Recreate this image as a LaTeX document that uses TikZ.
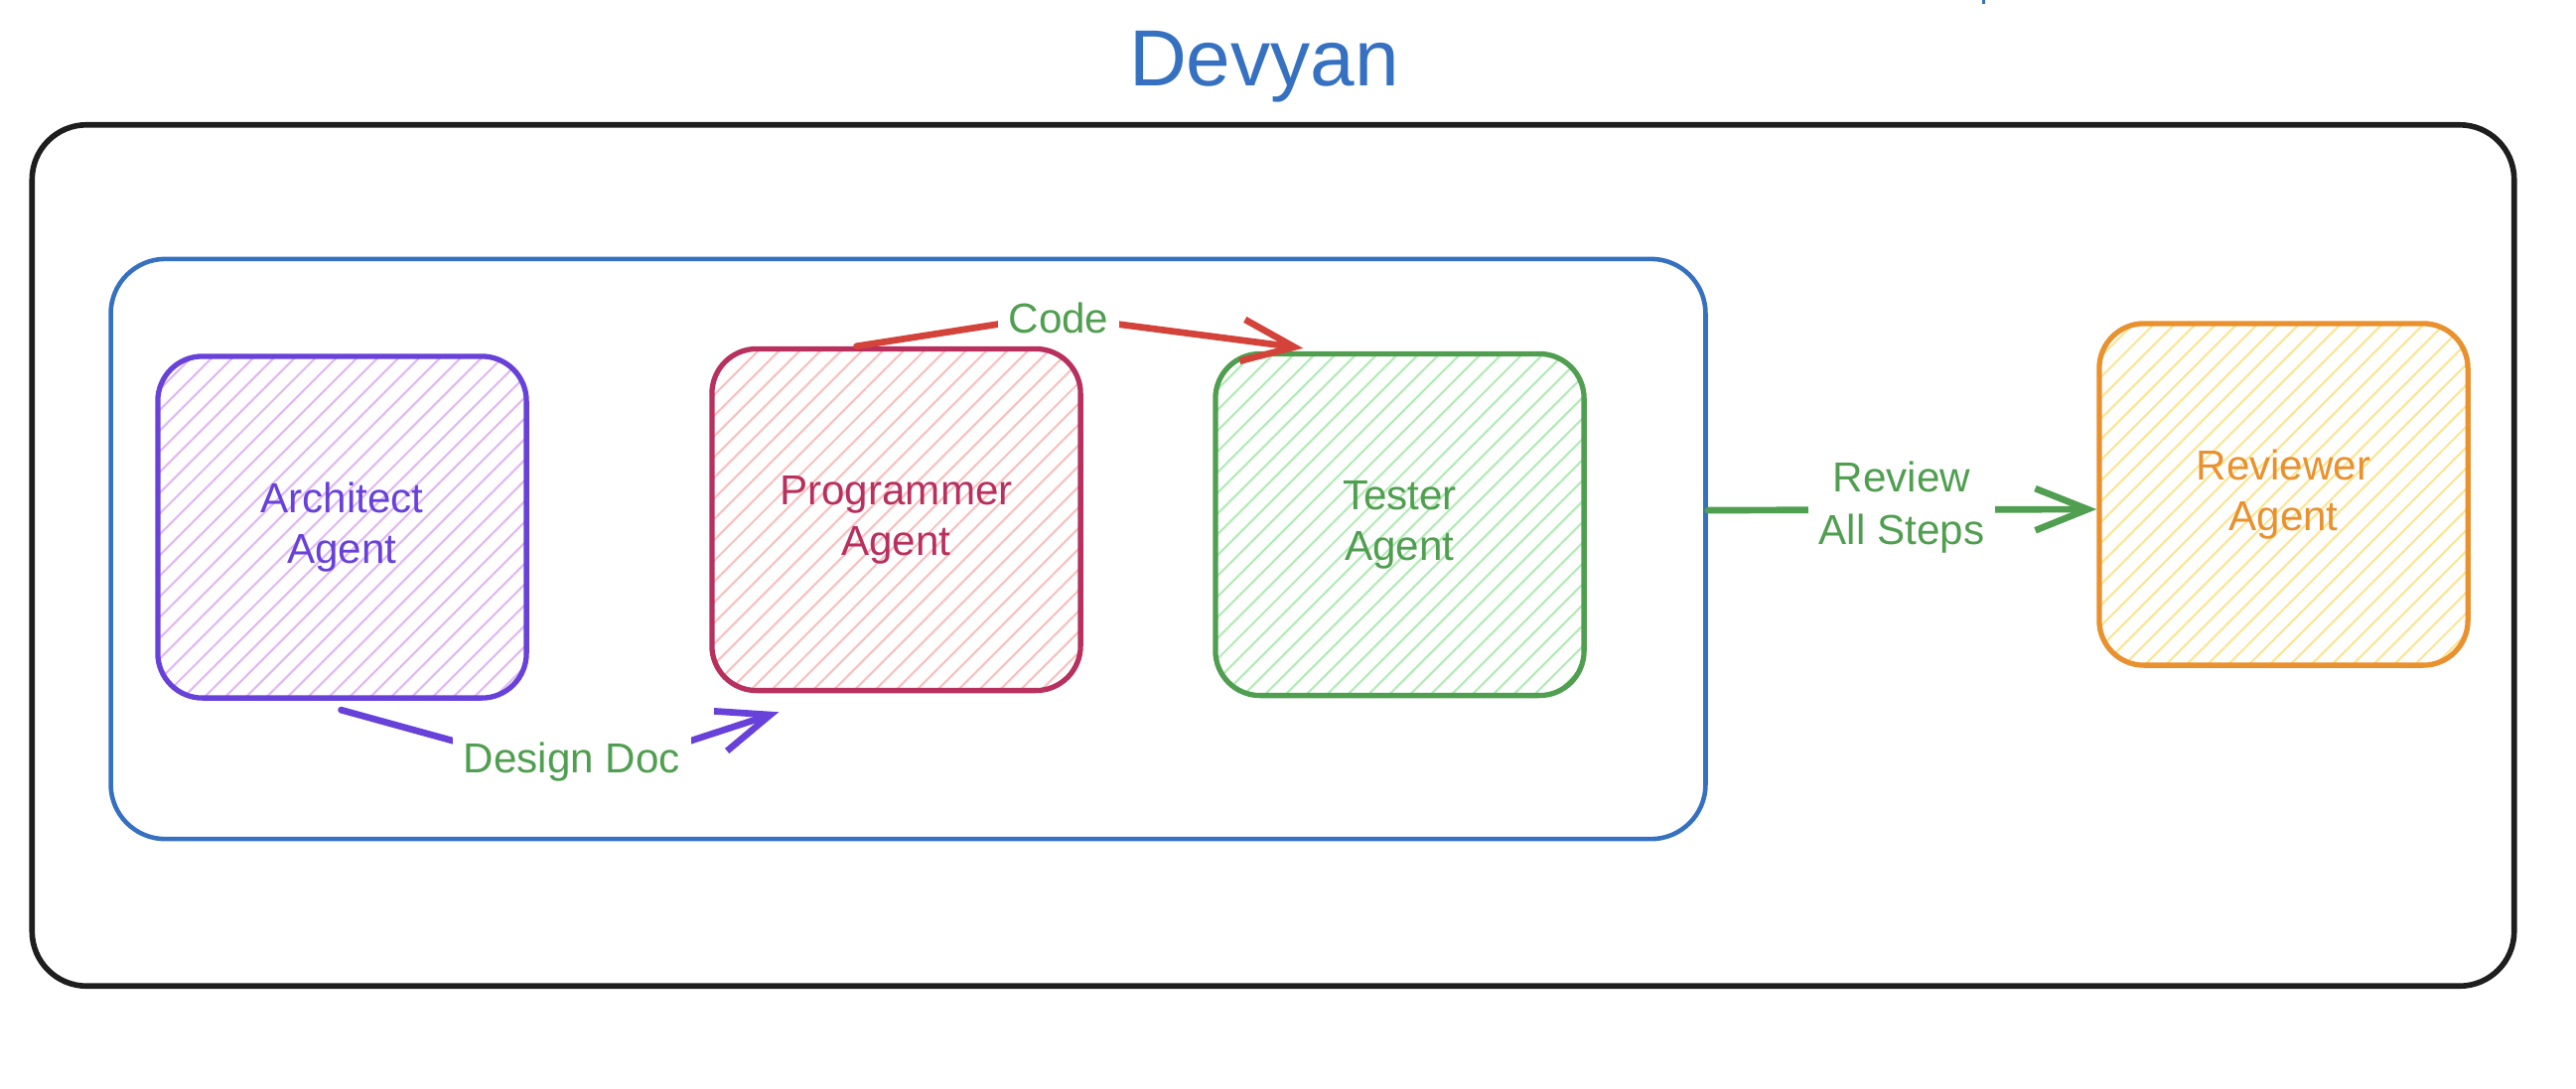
\documentclass[tikz,border=0pt]{standalone}
\usepackage{fontspec}
\setmainfont{Liberation Sans}
\usetikzlibrary{arrows.meta,patterns.meta,calc}
\definecolor{cBlack}{HTML}{1E1E1E}
\definecolor{cBlue}{RGB}{54,113,193}
\definecolor{cViolet}{HTML}{6741D9}
\definecolor{cViolHatch}{HTML}{E0B8F4}
\definecolor{cPink}{HTML}{B8305E}
\definecolor{cPinkHatch}{HTML}{F9C0C0}
\definecolor{cGreen}{RGB}{80,158,80}
\definecolor{cGreenHatch}{HTML}{B2EBB6}
\definecolor{cOrange}{HTML}{E8912E}
\definecolor{cOrangeHatch}{HTML}{FBE594}
\definecolor{cRed}{HTML}{D3433A}
\begin{document}
\begin{tikzpicture}[x=0.01cm,y=-0.01cm,
  agent/.style={draw=#1, line width=1.5pt, rounded corners=0.45cm,
    minimum width=3.71cm, minimum height=3.44cm, inner sep=0pt, align=center,
    text=#1, font=\fontsize{12}{14.5}\selectfont},
  hatch/.style={pattern={Lines[angle=45,distance=4.2pt,line width=0.6pt]}, pattern color=#1},
  flow/.style={line width=1.9pt, -{Straight Barb[length=15pt,width=12pt]},
    line cap=round, line join=round},
  lbl/.style={text=cGreen, fill=white, inner sep=3pt,
    font=\fontsize{12}{15}\selectfont, align=center}
]
\useasboundingbox (0,0) rectangle (2594,1096);

% title
\node[text=cBlue, font=\fontsize{22.8}{27}\selectfont, anchor=base] (title) at (1273,86) {Devyan};
\fill[cBlue] (1996,0) rectangle (1999,4);

% containers
\node[draw=cBlack, line width=1.6pt, rounded corners=0.55cm, minimum width=24.98cm,
      minimum height=8.67cm, inner sep=0pt] (outer) at (1282,559.5) {};
\node[draw=cBlue, line width=1.3pt, rounded corners=0.55cm, minimum width=16.05cm,
      minimum height=5.84cm, inner sep=0pt] (blue) at (914.5,553) {};

% agents
\node[agent=cViolet, hatch=cViolHatch] (arch) at (344.5,531) {Architect\\Agent};
\node[agent=cPink, hatch=cPinkHatch] (prog) at (902.5,523.5) {Programmer\\Agent};
\node[agent=cGreen, hatch=cGreenHatch] (tester) at (1409.5,528.5) {Tester\\Agent};
\node[agent=cOrange, hatch=cOrangeHatch] (rev) at (2299.5,498) {Reviewer\\Agent};

% connectors
\coordinate (ddMid) at (586,782);
\coordinate (codeMid) at (1060,318);
\draw[flow, cViolet] ($(arch.south)+(-1,11)$) -- (ddMid) -- ($(prog.south west)+(70,19)$);
\draw[flow, cRed] ($(prog.north)+(-40,0)$) -- (codeMid) -- ($(tester.north west)+(91,-3)$);
\draw[flow, cGreen] ($(blue.east)+(0,-39)$) -- ($(rev.west)+(0,15)$);

% labels
\node[lbl] (ddl) at (576,768) {Design Doc};
\node[lbl] (codel) at (1066,320) {Code};
\node[lbl] (revl) at (1915,511) {Review\\All Steps};
\end{tikzpicture}
\end{document}
